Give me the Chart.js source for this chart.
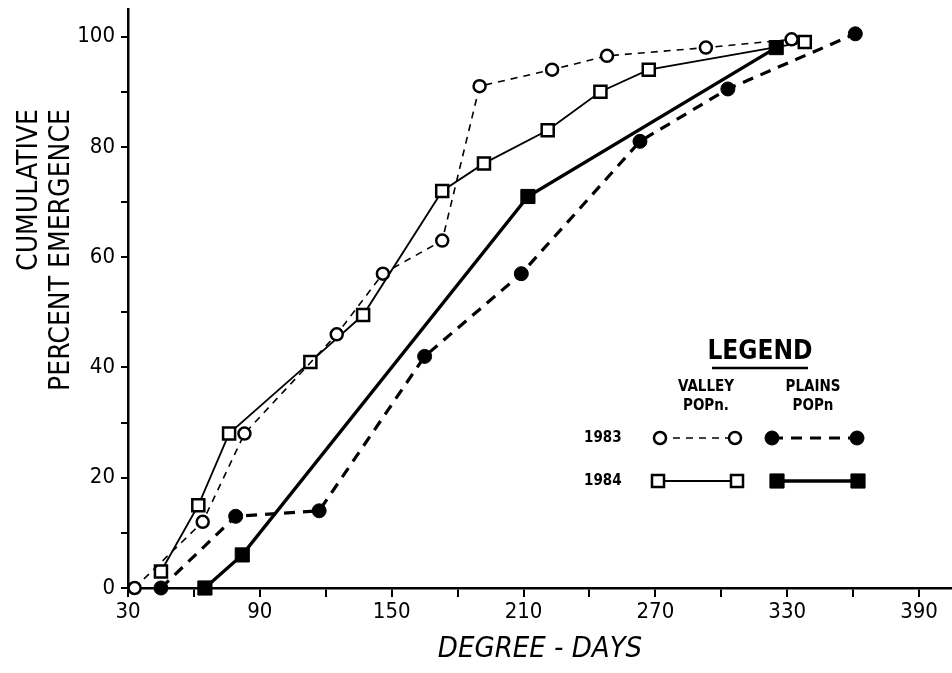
<!DOCTYPE html>
<html>
<head>
<meta charset="utf-8">
<script src="https://cdn.jsdelivr.net/npm/chart.js@4.4.1/dist/chart.umd.min.js"></script>
<style>
  html, body { margin: 0; padding: 0; background: #fff; overflow: hidden; }
  #wrap { width: 952px; height: 673px; }
  canvas { display: block; }
</style>
</head>
<body>
<div id="wrap"><canvas id="chart" width="952" height="673"></canvas></div>
<script>
// datos
const valley83X = [33, 64, 83, 125, 146, 173, 190, 223, 248, 293, 332];
const valley83Y = [0, 12, 28, 46, 57, 63, 91, 94, 96.5, 98, 99.5];
const valley84X = [45, 62, 76, 113, 137, 173, 192, 221, 245, 267, 338];
const valley84Y = [3, 15, 28, 41, 49.5, 72, 77, 83, 90, 94, 99];
const plains83X = [45, 79, 117, 165, 209, 263, 303, 361];
const plains83Y = [0, 13, 14, 42, 57, 81, 90.5, 100.5];
const plains84X = [65, 82, 212, 325];
const plains84Y = [0, 6, 71, 98];

const xTicks = [30, 60, 90, 120, 150, 180, 210, 240, 270, 300, 330, 360, 390];
const xLabels = [30, 90, 150, 210, 270, 330, 390];
const yTicks = [0, 10, 20, 30, 40, 50, 60, 70, 80, 90, 100];
const yLabels = [0, 20, 40, 60, 80, 100];

const xTitle = 'DEGREE - DAYS';
const yTitleLines = ['CUMULATIVE', 'PERCENT EMERGENCE'];
const legendTitle = 'LEGEND';
const legendCols = [['VALLEY', 'POPn.'], ['PLAINS', 'POPn']];
const legendYears = ['1983', '1984'];

const FONT = '"DejaVu Sans Condensed", "Liberation Sans Narrow", "DejaVu Sans", sans-serif';

function pts(xs, ys) {
  return xs.map((x, i) => ({ x: x, y: ys[i] }));
}

const datasets = [
  { label: 'Valley 1983', data: pts(valley83X, valley83Y), borderColor: '#000', borderWidth: 1.6,
    borderDash: [7, 6], pointStyle: 'circle', pointRadius: 6, pointBorderWidth: 2.5,
    pointBackgroundColor: '#fff', pointBorderColor: '#000' },
  { label: 'Valley 1984', data: pts(valley84X, valley84Y), borderColor: '#000', borderWidth: 1.8,
    pointStyle: 'rect', pointRadius: 8.5, pointBorderWidth: 2.5,
    pointBackgroundColor: '#fff', pointBorderColor: '#000' },
  { label: 'Plains 1983', data: pts(plains83X, plains83Y), borderColor: '#000', borderWidth: 3.2,
    borderDash: [11, 8], pointStyle: 'circle', pointRadius: 7, pointBorderWidth: 1,
    pointBackgroundColor: '#000', pointBorderColor: '#000' },
  { label: 'Plains 1984', data: pts(plains84X, plains84Y), borderColor: '#000', borderWidth: 3.4,
    pointStyle: 'rect', pointRadius: 10, pointBorderWidth: 1,
    pointBackgroundColor: '#000', pointBorderColor: '#000' }
];

// titulo del eje Y y leyenda dibujados a mano
const paperPlugin = {
  id: 'paper',
  afterDraw(chart) {
    const ctx = chart.ctx;
    ctx.save();
    ctx.fillStyle = '#000';
    ctx.textAlign = 'center';
    ctx.textBaseline = 'middle';

    // titulo Y, dos lineas giradas
    ctx.font = '28px ' + FONT;
    ctx.save();
    ctx.translate(30, 190);
    ctx.rotate(-Math.PI / 2);
    ctx.fillText(yTitleLines[0], 0, 0);
    ctx.restore();
    ctx.save();
    ctx.translate(62, 250);
    ctx.rotate(-Math.PI / 2);
    ctx.fillText(yTitleLines[1], 0, 0);
    ctx.restore();

    // leyenda
    ctx.font = 'bold 26px ' + FONT;
    ctx.fillText(legendTitle, 760, 352);
    ctx.lineWidth = 2.5;
    ctx.strokeStyle = '#000';
    ctx.beginPath();
    ctx.moveTo(712, 368);
    ctx.lineTo(808, 368);
    ctx.stroke();

    ctx.font = 'bold 15px ' + FONT;
    const colX = [706, 813];
    legendCols.forEach((lines, c) => {
      ctx.fillText(lines[0], colX[c], 387);
      ctx.fillText(lines[1], colX[c], 406);
    });
    const rowY = [438, 481];
    ctx.textAlign = 'left';
    legendYears.forEach((yr, r) => ctx.fillText(yr, 584, rowY[r]));

    const samples = [
      [datasets[0], 660, 735, rowY[0]],
      [datasets[2], 772, 857, rowY[0]],
      [datasets[1], 658, 737, rowY[1]],
      [datasets[3], 777, 858, rowY[1]]
    ];
    samples.forEach(([ds, x1, x2, y]) => {
      ctx.save();
      ctx.strokeStyle = ds.borderColor;
      ctx.lineWidth = ds.borderWidth;
      ctx.setLineDash(ds.borderDash || []);
      ctx.beginPath();
      ctx.moveTo(x1, y);
      ctx.lineTo(x2, y);
      ctx.stroke();
      ctx.setLineDash([]);
      [x1, x2].forEach(px => {
        ctx.fillStyle = ds.pointBackgroundColor;
        ctx.strokeStyle = ds.pointBorderColor;
        ctx.lineWidth = ds.pointBorderWidth;
        Chart.helpers.drawPoint(ctx, { pointStyle: ds.pointStyle, radius: ds.pointRadius, rotation: 0, borderWidth: ds.pointBorderWidth }, px, y);
      });
      ctx.restore();
    });
    ctx.restore();
  }
};

new Chart(document.getElementById('chart').getContext('2d'), {
  type: 'scatter',
  data: { datasets: datasets.map(d => Object.assign({ showLine: true, fill: false, tension: 0, clip: false }, d)) },
  options: {
    responsive: false,
    animation: false,
    layout: { autoPadding: false, padding: { top: 9, right: 0, left: 0, bottom: 0 } },
    plugins: { legend: { display: false }, tooltip: { enabled: false } },
    scales: {
      x: {
        type: 'linear', min: 30, max: 405,
        afterBuildTicks: axis => { axis.ticks = xTicks.map(v => ({ value: v })); },
        afterFit: axis => { axis.height = 85; axis.paddingRight = 0; axis.paddingLeft = 0; },
        border: { display: true, color: '#000', width: 2.5 },
        grid: { drawOnChartArea: false, color: '#000', lineWidth: 2, tickLength: 9 },
        ticks: {
          color: '#000', font: { family: FONT, size: 22 }, padding: 2, maxRotation: 0,
          autoSkip: false,
          callback: v => xLabels.includes(v) ? String(v) : ''
        },
        title: {
          display: true, text: xTitle, color: '#000',
          font: { family: FONT, size: 29, style: 'italic' }, padding: { top: 0, bottom: 6 }
        }
      },
      y: {
        type: 'linear', min: 0, max: 105,
        afterBuildTicks: axis => { axis.ticks = yTicks.map(v => ({ value: v })); },
        afterFit: axis => { axis.width = 128; axis.paddingTop = 0; axis.paddingBottom = 0; },
        border: { display: true, color: '#000', width: 2.5 },
        grid: { drawOnChartArea: false, color: '#000', lineWidth: 2, tickLength: 7 },
        ticks: {
          color: '#000', font: { family: FONT, size: 22 }, padding: 6, autoSkip: false,
          callback: v => yLabels.includes(v) ? String(v) : ''
        }
      }
    }
  },
  plugins: [paperPlugin]
});
</script>
</body>
</html>
